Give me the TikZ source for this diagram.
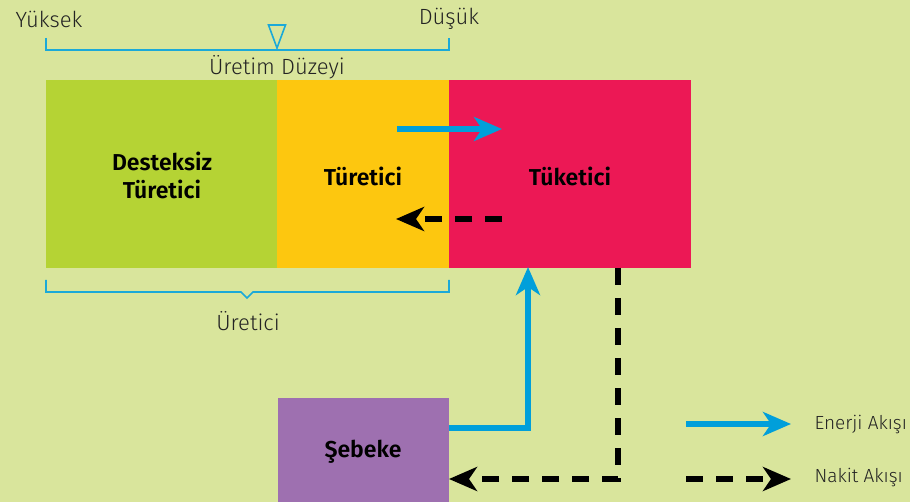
\documentclass[tikz,border=0pt]{standalone}
\usepackage{fontspec}
\setmainfont{Fira Sans Light}
\newfontfamily\boldface{Fira Sans SemiBold}
\usetikzlibrary{arrows.meta}
\definecolor{bg}{RGB}{217,229,156}
\definecolor{cgreen}{RGB}{181,211,52}
\definecolor{cyellow}{RGB}{253,199,15}
\definecolor{cred}{RGB}{236,24,85}
\definecolor{cpurple}{RGB}{158,112,176}
\definecolor{cblue}{RGB}{0,159,218}
\definecolor{cbrack}{RGB}{27,169,216}
\definecolor{ctext}{RGB}{35,35,35}
\tikzset{
  block/.style={draw=none, inner sep=0pt, anchor=north west},
  blabel/.style={font=\boldface\fontsize{23}{28}\selectfont, align=center, text=black},
  plain/.style={font=\fontsize{22}{26}\selectfont, text=ctext},
  legendtext/.style={font=\fontsize{19}{22}\selectfont, text=ctext, anchor=west},
  energy/.style={cblue, line width=6pt, -{Stealth[length=28pt, width=24pt, inset=8pt]}},
  cash/.style={black, line width=6pt, dash pattern=on 17pt off 13pt, -{Stealth[length=28pt, width=24pt, inset=8pt]}},
  brace/.style={cbrack, line width=1.6pt},
}
\begin{document}
\begin{tikzpicture}[x=1pt, y=-1pt]
  \fill[bg] (0,0) rectangle (910,502);
  \useasboundingbox (0,0) rectangle (910,502);

  % producer and consumer blocks
  \node[block, fill=cgreen, minimum width=231pt, minimum height=188pt] (des) at (46,80) {};
  \node[block, fill=cyellow, minimum width=172pt, minimum height=188pt] (tur) at (277,80) {};
  \node[block, fill=cred, minimum width=242pt, minimum height=188pt] (tuk) at (449,80) {};
  \node[block, fill=cpurple, minimum width=171pt, minimum height=110pt] (seb) at (278,398) {};

  \node[blabel] (desl) at (162,175) {Desteksiz\\Türetici};
  \node[blabel] (turl) at (363,176) {Türetici};
  \node[blabel] (tukl) at (570,176) {Tüketici};
  \node[blabel] (sebl) at (363,452) {Şebeke};

  % production level scale
  \node[plain] (yuk) at (49,19) {Yüksek};
  \node[plain] (dus) at (449,19) {Düşük};
  \node[plain] (uret) at (277,67) {Üretim Düzeyi};
  \draw[brace] (46,38) -- (46,50) -- (449,50) -- (449,38);
  \draw[brace, line join=miter] (268.5,25) -- (285.5,25) -- (277,48) -- cycle;

  % producer brace
  \draw[brace] (46,280) -- (46,292) -- (241,292) -- (247,298) -- (253,292) -- (449,292) -- (449,280);
  \node[plain] (ureti) at (248,321) {Üretici};

  % flows
  \coordinate (e1) at (397,129);
  \coordinate (e2) at (502,129);
  \draw[energy] (e1) -- (e2);
  \coordinate (c1) at (502,219);
  \coordinate (c2) at (396,219);
  \draw[cash] (c1) -- (c2);

  \draw[energy] (seb.east |- 0,428) -| (528,267);
  \draw[cash] (618,268) |- (449,479);

  % legend
  \coordinate (le1) at (686,424);
  \coordinate (le2) at (791,424);
  \draw[energy] (le1) -- (le2);
  \node[legendtext] (len) at (811,425) {Enerji Akışı};
  \coordinate (lc1) at (686,479);
  \coordinate (lc2) at (791,479);
  \draw[cash] (lc1) -- (lc2);
  \node[legendtext] (lna) at (811,478) {Nakit Akışı};
\end{tikzpicture}
\end{document}
